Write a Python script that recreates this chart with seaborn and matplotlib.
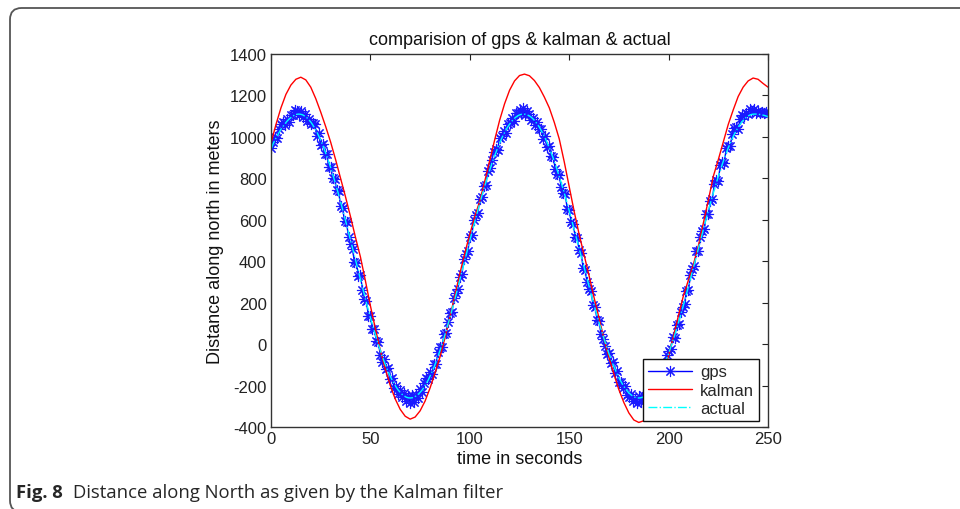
import numpy as np
import pandas as pd
import matplotlib
matplotlib.use("Agg")
import matplotlib.pyplot as plt
from matplotlib.patches import FancyBboxPatch
import seaborn as sns

# ---------------- data ----------------
t_gps = list(range(0, 251))
gps = [945, 975, 1000, 995, 1040, 1062, 1070, 1058, 1085, 1073,
       1108, 1108, 1128, 1124, 1105, 1127, 1096, 1112, 1078, 1088,
       1060, 1068, 1060, 1005, 1017, 959, 966, 916, 919, 856,
       857, 803, 797, 744, 737, 667, 657, 593, 587, 515,
       482, 458, 395, 392, 330, 332, 263, 220, 209, 135,
       136, 74, 73, 14, 8, -53, -84, -71, -119, -114,
       -170, -163, -212, -203, -240, -223, -255, -235, -276, -251,
       -282, -247, -281, -245, -258, -215, -232, -188, -164, -167,
       -135, -146, -96, -94, -37, -16, -12, 47, 56, 109,
       148, 155, 221, 245, 267, 325, 338, 409, 437, 447,
       519, 526, 597, 623, 632, 699, 708, 764, 768, 834,
       849, 890, 926, 942, 939, 995, 1002, 1030, 1020, 1062,
       1069, 1089, 1077, 1114, 1113, 1131, 1117, 1138, 1104, 1126,
       1111, 1082, 1093, 1059, 1073, 1037, 1040, 992, 1004, 952,
       957, 907, 904, 843, 819, 814, 756, 731, 723, 654,
       649, 588, 582, 518, 511, 454, 440, 368, 359, 299,
       268, 254, 188, 181, 117, 112, 47, 26, -9, -48,
       -41, -92, -87, -138, -130, -182, -185, -212, -201, -244,
       -253, -239, -276, -266, -284, -250, -277, -244, -271, -229,
       -245, -206, -216, -177, -172, -177, -122, -110, -109, -52,
       -31, -26, 36, 31, 90, 96, 157, 181, 194, 257,
       260, 334, 363, 378, 447, 447, 517, 544, 557, 628,
       626, 689, 701, 771, 793, 789, 864, 878, 876, 944,
       957, 955, 1012, 1042, 1048, 1037, 1086, 1104, 1100, 1114,
       1111, 1136, 1124, 1135, 1115, 1127, 1113, 1121, 1114, 1119,
       1110]

t_actual = list(range(0, 251))
actual = [940, 965, 985, 1003, 1020, 1037, 1050, 1063, 1075, 1085,
          1093, 1100, 1106, 1109, 1110, 1109, 1106, 1100, 1093, 1083,
          1072, 1058, 1042, 1025, 1005, 984, 961, 936, 909, 881,
          852, 821, 789, 756, 722, 687, 651, 615, 577, 540,
          502, 463, 425, 387, 348, 310, 273, 235, 199, 163,
          128, 94, 61, 29, -2, -31, -59, -86, -111, -134,
          -155, -175, -192, -208, -222, -233, -243, -250, -256, -259,
          -260, -259, -256, -250, -243, -233, -222, -208, -192, -175,
          -155, -134, -111, -86, -59, -31, -2, 29, 61, 94,
          128, 163, 199, 235, 273, 310, 348, 387, 425, 462,
          499, 536, 572, 608, 644, 679, 713, 746, 778, 809,
          839, 868, 896, 922, 947, 970, 992, 1012, 1030, 1047,
          1061, 1074, 1085, 1094, 1101, 1106, 1109, 1110, 1109, 1106,
          1101, 1094, 1085, 1074, 1061, 1047, 1030, 1012, 992, 970,
          947, 922, 896, 868, 839, 809, 778, 746, 713, 679,
          644, 608, 572, 536, 499, 462, 425, 388, 351, 314,
          278, 242, 206, 171, 137, 104, 72, 41, 11, -18,
          -46, -72, -97, -120, -142, -162, -180, -197, -211, -224,
          -235, -244, -251, -256, -259, -260, -259, -256, -251, -244,
          -235, -224, -211, -197, -180, -162, -142, -120, -97, -72,
          -46, -18, 11, 41, 72, 104, 137, 171, 206, 242,
          278, 314, 351, 388, 425, 462, 499, 536, 572, 608,
          644, 679, 713, 746, 778, 809, 839, 868, 896, 922,
          947, 970, 992, 1012, 1030, 1047, 1061, 1074, 1085, 1094,
          1101, 1106, 1109, 1110, 1110, 1109, 1108, 1106, 1104, 1101,
          1098]

t_kalman = [0, 2.5, 5, 7.5, 10, 12.5, 15, 17.5, 20, 22.5,
            25, 27.5, 30, 32.5, 35, 37.5, 40, 42.5, 45, 47.5,
            50, 52.5, 55, 57.5, 60, 62.5, 65, 67.5, 70, 72.5,
            75, 77.5, 80, 82.5, 85, 87.5, 90, 92.5, 95, 97.5,
            100, 102.5, 105, 107.5, 110, 112.5, 115, 117.5, 120, 122.5,
            125, 127.5, 130, 132.5, 135, 137.5, 140, 142.5, 145, 147.5,
            150, 152.5, 155, 157.5, 160, 162.5, 165, 167.5, 170, 172.5,
            175, 177.5, 180, 182.5, 185, 187.5, 190, 192.5, 195, 197.5,
            200, 202.5, 205, 207.5, 210, 212.5, 215, 217.5, 220, 222.5,
            225, 227.5, 230, 232.5, 235, 237.5, 240, 242.5, 245, 247.5,
            250]
kalman = [970, 1060, 1140, 1205, 1250, 1278, 1288, 1275, 1240, 1185,
          1120, 1050, 975, 890, 800, 710, 615, 515, 420, 305,
          185, 75, -30, -120, -200, -265, -315, -348, -362, -352,
          -322, -275, -212, -140, -62, 30, 130, 235, 340, 440,
          530, 615, 690, 785, 885, 985, 1080, 1160, 1225, 1270,
          1296, 1303, 1295, 1272, 1238, 1192, 1140, 1070, 990, 880,
          760, 640, 530, 430, 330, 225, 125, 25, -65, -145,
          -220, -282, -332, -366, -378, -370, -340, -290, -222, -140,
          -55, 40, 140, 235, 310, 385, 475, 585, 695, 810,
          890, 975, 1060, 1130, 1195, 1240, 1270, 1284, 1278, 1258,
          1240]

x_ticks = [0, 50, 100, 150, 200, 250]
y_ticks = [-400, -200, 0, 200, 400, 600, 800, 1000, 1200, 1400]

title_text = "comparision of gps & kalman & actual"
x_label = "time in seconds"
y_label = "Distance along north in meters"
caption_bold = "Fig. 8"
caption_rest = "Distance along North as given by the Kalman filter"

# ---------------- style ----------------
sns.set_style("white")
plt.rcParams["font.family"] = ["Liberation Sans", "DejaVu Sans"]

df_gps = pd.DataFrame({"t": t_gps, "v": gps})
df_kal = pd.DataFrame({"t": t_kalman, "v": kalman})
df_act = pd.DataFrame({"t": t_actual, "v": actual})

fig = plt.figure(figsize=(9.6, 5.1), dpi=100)
fig.patch.set_facecolor("white")

# rounded frame around figure
frame = FancyBboxPatch((10 / 960, 1 - 513 / 510), 1.2, 504 / 510,
                       boxstyle="round,pad=0,rounding_size=0.012",
                       transform=fig.transFigure, fill=False,
                       edgecolor="#555555", linewidth=1.3, zorder=0,
                       mutation_aspect=960 / 510)
fig.patches.append(frame)

ax = fig.add_axes([271 / 960, 82 / 510, 497 / 960, 373 / 510])

sns.lineplot(data=df_gps, x="t", y="v", ax=ax, color="#0000ff", linewidth=1.0,
             marker=(8, 2, 0), markersize=8, markeredgewidth=0.8,
             markeredgecolor="#1a1aff", label="gps", errorbar=None, sort=False)
sns.lineplot(data=df_kal, x="t", y="v", ax=ax, color="#ff0000", linewidth=1.0,
             label="kalman", errorbar=None, sort=False)
sns.lineplot(data=df_act, x="t", y="v", ax=ax, color="#00ffff", linewidth=1.0,
             linestyle="-.", label="actual", errorbar=None, sort=False)

ax.set_xlim(0, 250)
ax.set_ylim(-400, 1400)
ax.set_xticks(x_ticks)
ax.set_yticks(y_ticks)
ax.set_xticklabels([str(v) for v in x_ticks])
ax.set_yticklabels([str(v) for v in y_ticks])
ax.tick_params(direction="in", length=4, width=0.8, top=True, right=True,
               labelsize=12, colors="#222222", pad=3)
for sp in ax.spines.values():
    sp.set_visible(True)
    sp.set_color("#333333")
    sp.set_linewidth(1.0)

ax.set_title(title_text, fontsize=13, pad=7, color="#111111")
ax.set_xlabel(x_label, fontsize=13, labelpad=3, color="#111111")
ax.set_ylabel(y_label, fontsize=13, labelpad=4, color="#111111")

leg = ax.legend(loc="lower right", bbox_to_anchor=(0.982, 0.016),
                borderaxespad=0, fancybox=False, framealpha=1,
                edgecolor="#111111", fontsize=12, handlelength=2.6,
                borderpad=0.3, labelspacing=0.2, handletextpad=0.5)
leg.get_frame().set_linewidth(1.0)

fig.text(16 / 960, 1 - 493 / 510, caption_bold, fontsize=13.3, fontweight="bold",
         family=["Open Sans", "DejaVu Sans"], va="center", ha="left")
fig.text(73 / 960, 1 - 493 / 510, caption_rest, fontsize=13.3,
         family=["Open Sans", "DejaVu Sans"], va="center", ha="left")

fig.savefig("out.png", dpi=100, facecolor="white")
